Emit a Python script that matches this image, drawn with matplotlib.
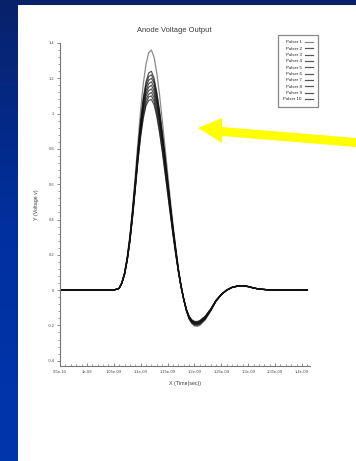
import matplotlib
matplotlib.use("Agg")
import matplotlib.pyplot as plt
import numpy as np
from matplotlib.patches import Rectangle, Polygon
from matplotlib.ticker import FixedLocator, AutoMinorLocator
from matplotlib.colors import LinearSegmentedColormap

plt.rcParams['font.family'] = ['Liberation Sans', 'DejaVu Sans']

title = "Anode Voltage Output"
xlabel = "X (Time(sec))"
ylabel = "Y (Voltage v)"

# time in ns
t_ns = [0.95, 1.05, 1.06, 1.065, 1.07, 1.075, 1.08, 1.085, 1.09, 1.095,
        1.10, 1.105, 1.11, 1.115, 1.12, 1.125, 1.13, 1.135, 1.14, 1.145,
        1.15, 1.155, 1.16, 1.165, 1.17, 1.175, 1.18, 1.185, 1.19, 1.195,
        1.20, 1.205, 1.21, 1.22, 1.23, 1.24, 1.25, 1.26, 1.27, 1.28,
        1.29, 1.30, 1.31, 1.32, 1.34, 1.41]

pulser_1 = [0, 0, 0.01, 0.04, 0.1, 0.19, 0.31, 0.47, 0.65, 0.84, 1.02, 1.17, 1.28, 1.345, 1.36, 1.32, 1.23, 1.11, 0.97, 0.82,
            0.67, 0.52, 0.38, 0.25, 0.13, 0.03, -0.05, -0.12, -0.165, -0.19, -0.203, -0.205, -0.2, -0.17, -0.12, -0.065,
            -0.027, 0.0, 0.016, 0.024, 0.026, 0.021, 0.013, 0.006, 0.001, 0]
pulser_2 = [0, 0, 0.01, 0.04, 0.095, 0.18, 0.30, 0.45, 0.62, 0.80, 0.96, 1.09, 1.18, 1.23, 1.24, 1.20, 1.12, 1.02, 0.90, 0.77,
            0.63, 0.49, 0.36, 0.24, 0.12, 0.03, -0.05, -0.115, -0.16, -0.185, -0.198, -0.2, -0.195, -0.165, -0.118, -0.063,
            -0.026, 0.0, 0.016, 0.023, 0.025, 0.02, 0.012, 0.006, 0.001, 0]
pulser_3 = [0, 0, 0.01, 0.04, 0.093, 0.178, 0.295, 0.445, 0.61, 0.79, 0.95, 1.08, 1.165, 1.21, 1.22, 1.185, 1.11, 1.01, 0.89, 0.76,
            0.62, 0.485, 0.355, 0.235, 0.12, 0.025, -0.05, -0.113, -0.158, -0.182, -0.194, -0.196, -0.19, -0.162, -0.116, -0.062,
            -0.026, 0.0, 0.016, 0.023, 0.025, 0.02, 0.012, 0.006, 0.001, 0]
pulser_4 = [0, 0, 0.01, 0.04, 0.092, 0.176, 0.29, 0.44, 0.60, 0.78, 0.94, 1.065, 1.15, 1.19, 1.20, 1.17, 1.095, 1.0, 0.88, 0.75,
            0.615, 0.48, 0.35, 0.23, 0.118, 0.025, -0.05, -0.112, -0.156, -0.18, -0.191, -0.192, -0.187, -0.16, -0.115, -0.062,
            -0.025, 0.0, 0.015, 0.023, 0.025, 0.02, 0.012, 0.006, 0.001, 0]
pulser_5 = [0, 0, 0.01, 0.04, 0.091, 0.174, 0.287, 0.435, 0.595, 0.77, 0.93, 1.05, 1.13, 1.17, 1.18, 1.15, 1.08, 0.985, 0.87, 0.745,
            0.61, 0.475, 0.345, 0.228, 0.116, 0.024, -0.05, -0.111, -0.154, -0.178, -0.189, -0.19, -0.185, -0.158, -0.114, -0.061,
            -0.025, 0.0, 0.015, 0.023, 0.025, 0.02, 0.012, 0.006, 0.001, 0]
pulser_6 = [0, 0, 0.01, 0.04, 0.09, 0.172, 0.284, 0.43, 0.59, 0.76, 0.92, 1.04, 1.115, 1.15, 1.16, 1.13, 1.065, 0.97, 0.86, 0.735,
            0.60, 0.47, 0.34, 0.225, 0.115, 0.023, -0.05, -0.11, -0.152, -0.176, -0.187, -0.188, -0.183, -0.156, -0.113, -0.061,
            -0.025, 0.0, 0.015, 0.022, 0.024, 0.02, 0.012, 0.006, 0.001, 0]
pulser_7 = [0, 0, 0.01, 0.04, 0.09, 0.17, 0.28, 0.425, 0.585, 0.755, 0.91, 1.025, 1.1, 1.13, 1.14, 1.11, 1.045, 0.955, 0.845, 0.725,
            0.595, 0.465, 0.335, 0.222, 0.113, 0.022, -0.05, -0.11, -0.15, -0.174, -0.185, -0.186, -0.181, -0.154, -0.112, -0.06,
            -0.025, 0.0, 0.015, 0.022, 0.024, 0.02, 0.012, 0.006, 0.001, 0]
pulser_8 = [0, 0, 0.01, 0.04, 0.09, 0.17, 0.28, 0.42, 0.58, 0.75, 0.90, 1.01, 1.08, 1.11, 1.12, 1.09, 1.025, 0.94, 0.83, 0.71,
            0.585, 0.455, 0.33, 0.218, 0.112, 0.021, -0.05, -0.11, -0.15, -0.172, -0.183, -0.184, -0.179, -0.152, -0.111, -0.06,
            -0.024, 0.0, 0.015, 0.022, 0.024, 0.02, 0.012, 0.006, 0.001, 0]
pulser_9 = [0, 0, 0.01, 0.04, 0.09, 0.17, 0.28, 0.42, 0.58, 0.74, 0.88, 0.99, 1.06, 1.095, 1.10, 1.07, 1.0, 0.91, 0.80, 0.68,
            0.56, 0.44, 0.32, 0.21, 0.11, 0.02, -0.05, -0.11, -0.15, -0.17, -0.18, -0.18, -0.175, -0.15, -0.11, -0.06,
            -0.025, 0.0, 0.015, 0.022, 0.024, 0.02, 0.012, 0.006, 0.001, 0]
pulser_10 = [0, 0, 0.01, 0.04, 0.088, 0.168, 0.276, 0.415, 0.57, 0.73, 0.87, 0.975, 1.045, 1.075, 1.08, 1.05, 0.985, 0.895, 0.79, 0.675,
             0.555, 0.435, 0.318, 0.208, 0.108, 0.02, -0.05, -0.108, -0.148, -0.168, -0.177, -0.178, -0.173, -0.148, -0.108, -0.058,
             -0.024, 0.0, 0.015, 0.022, 0.024, 0.02, 0.012, 0.006, 0.001, 0]

series = [pulser_1, pulser_2, pulser_3, pulser_4, pulser_5,
          pulser_6, pulser_7, pulser_8, pulser_9, pulser_10]
labels = ["Pulser 1", "Pulser 2", "Pulser 3", "Pulser 4", "Pulser 5",
          "Pulser 6", "Pulser 7", "Pulser 8", "Pulser 9", "Pulser 10"]

xticks = [9.5e-10, 1e-09, 1.05e-09, 1.1e-09, 1.15e-09, 1.2e-09, 1.25e-09, 1.3e-09, 1.35e-09, 1.4e-09]
xticklabels = ["9.5e-10", "1e-09", "1.05e-09", "1.1e-09", "1.15e-09", "1.2e-09",
               "1.25e-09", "1.3e-09", "1.35e-09", "1.4e-09"]
yticks = [-0.4, -0.2, 0, 0.2, 0.4, 0.6, 0.8, 1, 1.2, 1.4]
yticklabels = ["-0.4", "-0.2", "0", "0.2", "0.4", "0.6", "0.8", "1", "1.2", "1.4"]

W, H = 356, 461
fig = plt.figure(figsize=(W / 100, H / 100), dpi=100)

# slide background
bg = fig.add_axes([0, 0, 1, 1], zorder=-10)
grad = np.linspace(0, 1, 256).reshape(-1, 1)
cmap = LinearSegmentedColormap.from_list("slide", ["#08226a", "#0030a0", "#0036ac"])
bg.imshow(grad, aspect='auto', cmap=cmap, extent=[0, 1, 0, 1], origin='upper')
bg.add_patch(Rectangle((18 / W, 0), 1 - 18 / W, 1 - 5 / H, transform=bg.transAxes,
                       facecolor='white', edgecolor='none'))
bg.set_xlim(0, 1)
bg.set_ylim(0, 1)
bg.axis('off')

ax = fig.add_axes([60 / W, 1 - 366 / H, (310 - 60) / W, (366 - 43) / H])
ax.set_facecolor('none')
t = np.array(t_ns) * 1e-9
for i, (vals, lab) in enumerate(zip(series, labels)):
    if i == 0:
        ax.plot(t, vals, color='#8a8a8a', lw=0.9, label=lab)
    else:
        ax.plot(t, vals, color='#111111', lw=0.9, label=lab, alpha=0.7)

ax.set_xlim(9.5e-10, 1.415e-9)
ax.set_ylim(-0.43, 1.4)
ax.xaxis.set_major_locator(FixedLocator(xticks))
ax.set_xticklabels(xticklabels)
ax.yaxis.set_major_locator(FixedLocator(yticks))
ax.set_yticklabels(yticklabels)
ax.xaxis.set_minor_locator(AutoMinorLocator(5))
ax.yaxis.set_minor_locator(AutoMinorLocator(5))
for s in ['top', 'right']:
    ax.spines[s].set_visible(False)
for s in ['left', 'bottom']:
    ax.spines[s].set_color('#777777')
    ax.spines[s].set_linewidth(0.8)
ax.tick_params(axis='x', which='both', direction='in', colors='#777777', labelcolor='#4a4a4a',
               labelsize=3.0, pad=3)
ax.tick_params(axis='y', which='both', direction='out', colors='#777777', labelcolor='#4a4a4a',
               labelsize=3.0, pad=1.5)
ax.tick_params(which='major', length=2.5, width=0.6)
ax.tick_params(which='minor', length=1.8, width=0.5)
ax.set_xlabel(xlabel, fontsize=3.8, color='#3a3a3a', labelpad=5)
ax.set_ylabel(ylabel, fontsize=3.8, color='#3a3a3a', labelpad=6)

fig.text(174 / W, 1 - 31 / H, title, ha='center', va='center', fontsize=5.4, color='#3a3a3a')

leg = ax.legend(loc='upper left', bbox_to_anchor=(278 / W, 1 - 35 / H), bbox_transform=fig.transFigure,
                fontsize=3.2, markerfirst=False, handlelength=1.8, handletextpad=0.7,
                labelspacing=0.5, borderpad=1.2, fancybox=False, framealpha=1,
                edgecolor='#888888', borderaxespad=0)
leg.get_frame().set_linewidth(0.9)
for txt in leg.get_texts():
    txt.set_ha('right')
    txt.set_color('#222222')

# yellow pointer arrow
ov = fig.add_axes([0, 0, 1, 1], zorder=5)
ov.set_xlim(0, W)
ov.set_ylim(H, 0)
ov.axis('off')
ov.add_patch(Polygon([(198, 128), (222, 118), (222, 127), (356, 138), (356, 147),
                      (222, 136), (222, 143)], closed=True, facecolor='#ffff00', edgecolor='none'))

fig.savefig('out.png', dpi=100)
